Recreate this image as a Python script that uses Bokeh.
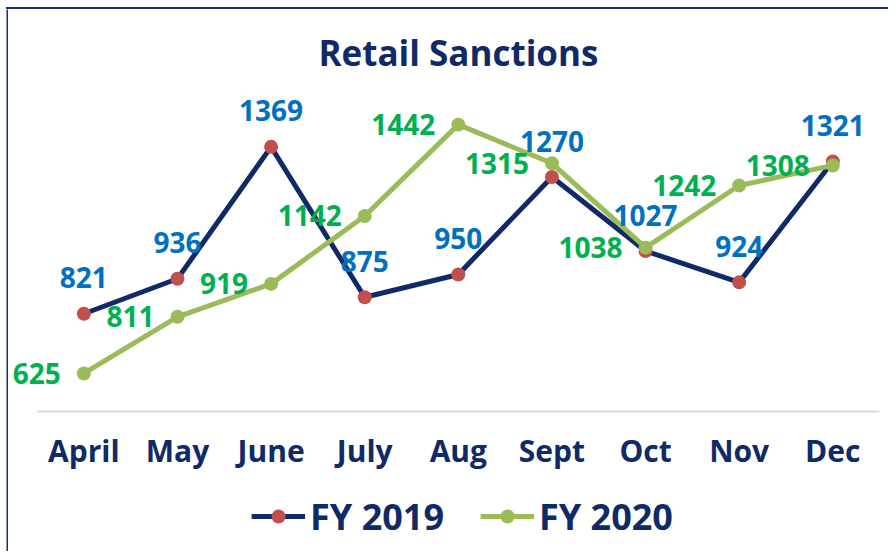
from bokeh.plotting import figure
from bokeh.models import (ColumnDataSource, Legend, LegendItem, Range1d, LabelSet,
                          Spacer, FixedTicker, Div)
from bokeh.layouts import column, row
from bokeh.core.properties import value
from bokeh.embed import file_html
from bokeh.resources import INLINE

# ---- data ----
months = ["April", "May", "June", "July", "Aug", "Sept", "Oct", "Nov", "Dec"]
fy2019 = [821, 936, 1369, 875, 950, 1270, 1027, 924, 1321]
fy2020 = [625, 811, 919, 1142, 1442, 1315, 1038, 1242, 1308]
series_names = ["FY 2019", "FY 2020"]
chart_title = "Retail Sanctions"

NAVY = "#0f2a66"
BORDER = "#14306e"
RED = "#c0504d"
GREEN_LINE = "#9bbb59"
BLUE_LABEL = "#0070c0"
GREEN_LABEL = "#00b050"
FONT = "Open Sans"

pos = list(range(len(months)))  # category slots along the x axis

src = ColumnDataSource(dict(
    xi=pos,
    month=months,
    fy2019=fy2019,
    fy2020=fy2020,
    l19=[str(v) for v in fy2019],
    l20=[str(v) for v in fy2020],
))

# ---- main chart ----
p = figure(
    x_range=Range1d(-0.805, 8.595),
    y_range=Range1d(500, 1600),
    width=880, height=471,
    output_backend="svg", toolbar_location=None,
    y_axis_location=None,
    min_border_left=0, min_border_right=0,
    min_border_top=67, min_border_bottom=69,
    title=chart_title,
)
p.frame_align = False
p.outline_line_color = None
p.grid.visible = False

p.title.align = "left"
p.title.offset = 310
p.title.text_font = FONT
p.title.text_font_style = "bold"
p.title.text_font_size = "35px"
p.title.text_color = NAVY
p.title.standoff = 2

ax = p.xaxis[0]
ax.ticker = FixedTicker(ticks=pos)
ax.major_label_overrides = {i: m for i, m in zip(pos, months)}
ax.bounds = (pos[0] - 0.5, pos[-1] + 0.5)
ax.axis_line_color = "#d9d9d9"
ax.axis_line_width = 2
ax.major_tick_line_color = None
ax.minor_tick_line_color = None
ax.major_tick_out = 0
ax.major_tick_in = 0
ax.minor_tick_out = 0
ax.minor_tick_in = 0
ax.major_label_text_font = FONT
ax.major_label_text_font_style = "bold"
ax.major_label_text_font_size = "30px"
ax.major_label_text_color = NAVY
ax.major_label_standoff = 18

l1 = p.line("xi", "fy2019", source=src, line_color=NAVY, line_width=5)
s1 = p.scatter("xi", "fy2019", source=src, size=14, fill_color=RED, line_color=None)
l2 = p.line("xi", "fy2020", source=src, line_color=GREEN_LINE, line_width=5)
s2 = p.scatter("xi", "fy2020", source=src, size=14, fill_color=GREEN_LINE, line_color=None)

p.text("xi", "fy2019", text="l19", source=src,
       text_font=value(FONT), text_font_style="bold", text_font_size="28px",
       text_color=BLUE_LABEL, text_align="center", text_baseline="middle",
       y_offset=-36)
p.add_layout(LabelSet(
    x="xi", y="fy2020", text="l20", source=src,
    text_font=value(FONT), text_font_style="bold", text_font_size="28px",
    text_color=GREEN_LABEL, text_align="right", text_baseline="middle",
    x_offset=-23,
))

# ---- legend strip below the chart ----
lg = figure(
    width=880, height=71,
    x_range=Range1d(-0.805, 8.595), y_range=Range1d(0, 1),
    output_backend="svg", toolbar_location=None,
    x_axis_location=None, y_axis_location=None,
    min_border_left=33, min_border_right=5, min_border_top=0, min_border_bottom=0,
)
lg.frame_align = False
lg.outline_line_color = None
lg.grid.visible = False
# same series, outside this strip's visible range: only their legend swatches show
d1 = lg.line("xi", "fy2019", source=src, line_color=NAVY, line_width=5)
e1 = lg.scatter("xi", "fy2019", source=src, size=14, fill_color=RED, line_color=None)
d2 = lg.line("xi", "fy2020", source=src, line_color=GREEN_LINE, line_width=5)
e2 = lg.scatter("xi", "fy2020", source=src, size=14, fill_color=GREEN_LINE, line_color=None)

legend = Legend(
    items=[LegendItem(label=series_names[0], renderers=[d1, e1]),
           LegendItem(label=series_names[1], renderers=[d2, e2])],
    orientation="horizontal", location="center",
    border_line_color=None, background_fill_alpha=0,
    label_text_font=FONT, label_text_font_style="bold",
    label_text_font_size="36px", label_text_color=NAVY,
    glyph_width=54, glyph_height=35, label_standoff=5, spacing=36,
    padding=0, margin=0,
)
lg.add_layout(legend, "center")

# ---- chart border (top and left edges) ----
left_bar = figure(width=2, height=542, output_backend="svg", toolbar_location=None,
                  x_axis_location=None, y_axis_location=None, min_border=0, title=None)
left_bar.frame_align = False
left_bar.outline_line_color = None
left_bar.grid.visible = False
left_bar.background_fill_color = BORDER
left_bar.border_fill_color = BORDER

top_bar = Div(text="", width=882, height=2, margin=0,
              styles={"background-color": BORDER})

layout = column(
    Spacer(width=888, height=7),
    row(Spacer(width=6, height=544),
        column(top_bar, row(left_bar, column(p, lg)))),
)

open("out.html", "w").write(file_html(layout, INLINE))
